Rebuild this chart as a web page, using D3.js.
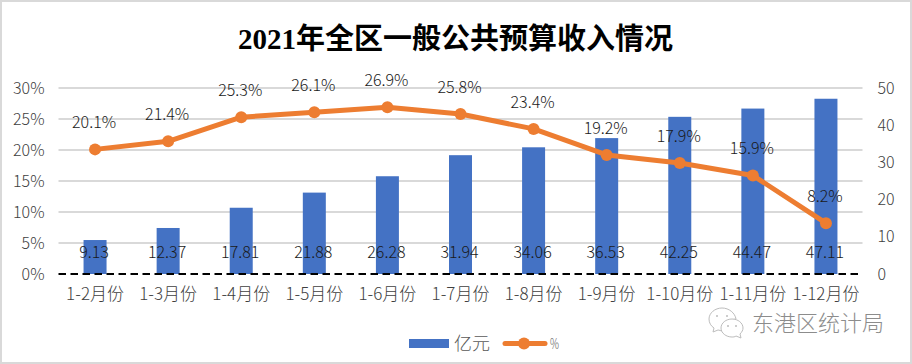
<!DOCTYPE html>
<html><head><meta charset="utf-8">
<script src="https://cdn.jsdelivr.net/npm/d3@7"></script>
<style>html,body{margin:0;padding:0;background:#fff}svg{display:block}text{font-family:"Noto Sans CJK SC","Noto Sans",sans-serif}</style>
</head><body><div id="chart"></div>
<script>
const titleText = "2021年全区一般公共预算收入情况";
const categories = ["1-2月份","1-3月份","1-4月份","1-5月份","1-6月份","1-7月份","1-8月份","1-9月份","1-10月份","1-11月份","1-12月份"];
const amounts = [9.13,12.37,17.81,21.88,26.28,31.94,34.06,36.53,42.25,44.47,47.11];
const percents = [20.1,21.4,25.3,26.1,26.9,25.8,23.4,19.2,17.9,15.9,8.2];
const leftTicks = [0,5,10,15,20,25,30];
const rightTicks = [0,10,20,30,40,50];
const legendNames = ["亿元","%"];
const watermark = "东港区统计局";

const W=912,H=364,L=58.5,R=862.5,T=88,B=274;
const svg=d3.select("#chart").append("svg").attr("width",W).attr("height",H);
svg.append("rect").attr("x",1).attr("y",1).attr("width",W-2).attr("height",H-2).attr("fill","#fff").attr("stroke","#d9d9d9").attr("stroke-width",2);

const x=d3.scaleBand().domain(categories).range([L,R]).paddingInner(0).paddingOuter(0);
const yL=d3.scaleLinear().domain([0,30]).range([B,T]);
const yR=d3.scaleLinear().domain([0,50]).range([B,T]);
const cx=d=>x(d)+x.bandwidth()/2;

svg.append("text").attr("x",455.5).attr("y",49).attr("text-anchor","middle")
  .attr("font-size",29).attr("font-weight",700).attr("fill","#000")
  .style("font-family",'"Liberation Serif","Noto Sans CJK SC",serif').text(titleText);

// gridlines
svg.append("g").selectAll("line").data(leftTicks.filter(d=>d>0)).join("line")
  .attr("x1",L).attr("x2",R).attr("y1",d=>yL(d)).attr("y2",d=>yL(d))
  .attr("stroke","#d9d9d9").attr("stroke-width",2);

// bars
const barW=23;
svg.append("g").selectAll("rect").data(amounts).join("rect")
  .attr("x",(d,i)=>cx(categories[i])-barW/2).attr("width",barW)
  .attr("y",d=>yR(d)).attr("height",d=>B-yR(d)).attr("fill","#4472c4");

// baseline
svg.append("line").attr("x1",L).attr("x2",R).attr("y1",B).attr("y2",B)
  .attr("stroke","#000").attr("stroke-width",2).attr("stroke-dasharray","7.5 4.5");

// axes
const axL=d3.axisLeft(yL).tickValues(leftTicks).tickFormat(d=>d+"%").tickSize(0).tickPadding(14);
const gL=svg.append("g").attr("transform",`translate(${L},0)`).call(axL);
const axR=d3.axisRight(yR).tickValues(rightTicks).tickSize(0).tickPadding(15);
const gR=svg.append("g").attr("transform",`translate(${R},0)`).call(axR);
const axB=d3.axisBottom(x).tickSize(0).tickPadding(14);
const gB=svg.append("g").attr("transform",`translate(0,${B})`).call(axB);
[gL,gR,gB].forEach(g=>{g.select(".domain").remove();
  g.selectAll("text").attr("fill","#404040").attr("font-size",16)
   .style("font-family",'"Noto Sans CJK SC","Noto Sans",sans-serif').style("font-weight",300);});
gB.selectAll("text").attr("font-size",17).attr("fill","#404040");

// line
const line=d3.line().x((d,i)=>cx(categories[i])).y(d=>yL(d));
svg.append("path").datum(percents).attr("d",line).attr("fill","none").attr("stroke","#ed7d31").attr("stroke-width",5).attr("stroke-linejoin","round");
svg.append("g").selectAll("circle").data(percents).join("circle")
  .attr("cx",(d,i)=>cx(categories[i])).attr("cy",d=>yL(d)).attr("r",6).attr("fill","#ed7d31");

// data labels
svg.append("g").selectAll("text").data(percents).join("text")
  .attr("x",(d,i)=>cx(categories[i])-1).attr("y",d=>yL(d)-21).attr("text-anchor","middle")
  .attr("font-size",16).attr("font-weight",300).attr("fill","#1a1a1a").text(d=>d.toFixed(1)+"%");
svg.append("g").selectAll("text").data(amounts).join("text")
  .attr("x",(d,i)=>cx(categories[i])-1).attr("y",B-16).attr("text-anchor","middle")
  .attr("font-size",16).attr("font-weight",300).attr("fill","#1a1a1a").text(d=>d.toFixed(2));

// legend
const lg=svg.append("g");
lg.append("rect").attr("x",409).attr("y",339).attr("width",40).attr("height",9).attr("fill","#4472c4");
lg.append("text").attr("x",454).attr("y",350).attr("font-size",18).attr("font-weight",300).attr("fill","#595959").text(legendNames[0]);
lg.append("line").attr("x1",505).attr("x2",545).attr("y1",343.5).attr("y2",343.5).attr("stroke","#ed7d31").attr("stroke-width",5).attr("stroke-linecap","round");
lg.append("circle").attr("cx",524).attr("cy",343.5).attr("r",6).attr("fill","#ed7d31");
lg.append("text").attr("x",550).attr("y",349).attr("font-size",15).attr("font-weight",300).attr("fill","#595959")
  .attr("textLength",9).attr("lengthAdjust","spacingAndGlyphs").text(legendNames[1]);

// watermark
const wm=svg.append("g").attr("fill","#fff").attr("stroke","#bdbdbd").attr("stroke-width",1);
wm.append("path").attr("d","M722 308c-7 0-13 5-13 11 0 4 2 7 5 9l-1 4 5-2c1 0 3 1 5 1 0-6 5-11 13-12-1-6-7-11-14-11z");
wm.append("path").attr("d","M732 319c-6 0-11 4-11 9s5 9 11 9c1 0 3 0 4-1l5 2-1-4c2-2 3-4 3-6 0-5-5-9-11-9z");
wm.selectAll("circle").data([[717,316],[727,316],[728,326],[736,326]]).join("circle")
  .attr("cx",d=>d[0]).attr("cy",d=>d[1]).attr("r",1).attr("fill","#bdbdbd").attr("stroke","none");
svg.append("text").attr("x",752).attr("y",331).attr("font-size",22).attr("font-weight",300).attr("fill","#8c8c8c").text(watermark);
</script></body></html>
